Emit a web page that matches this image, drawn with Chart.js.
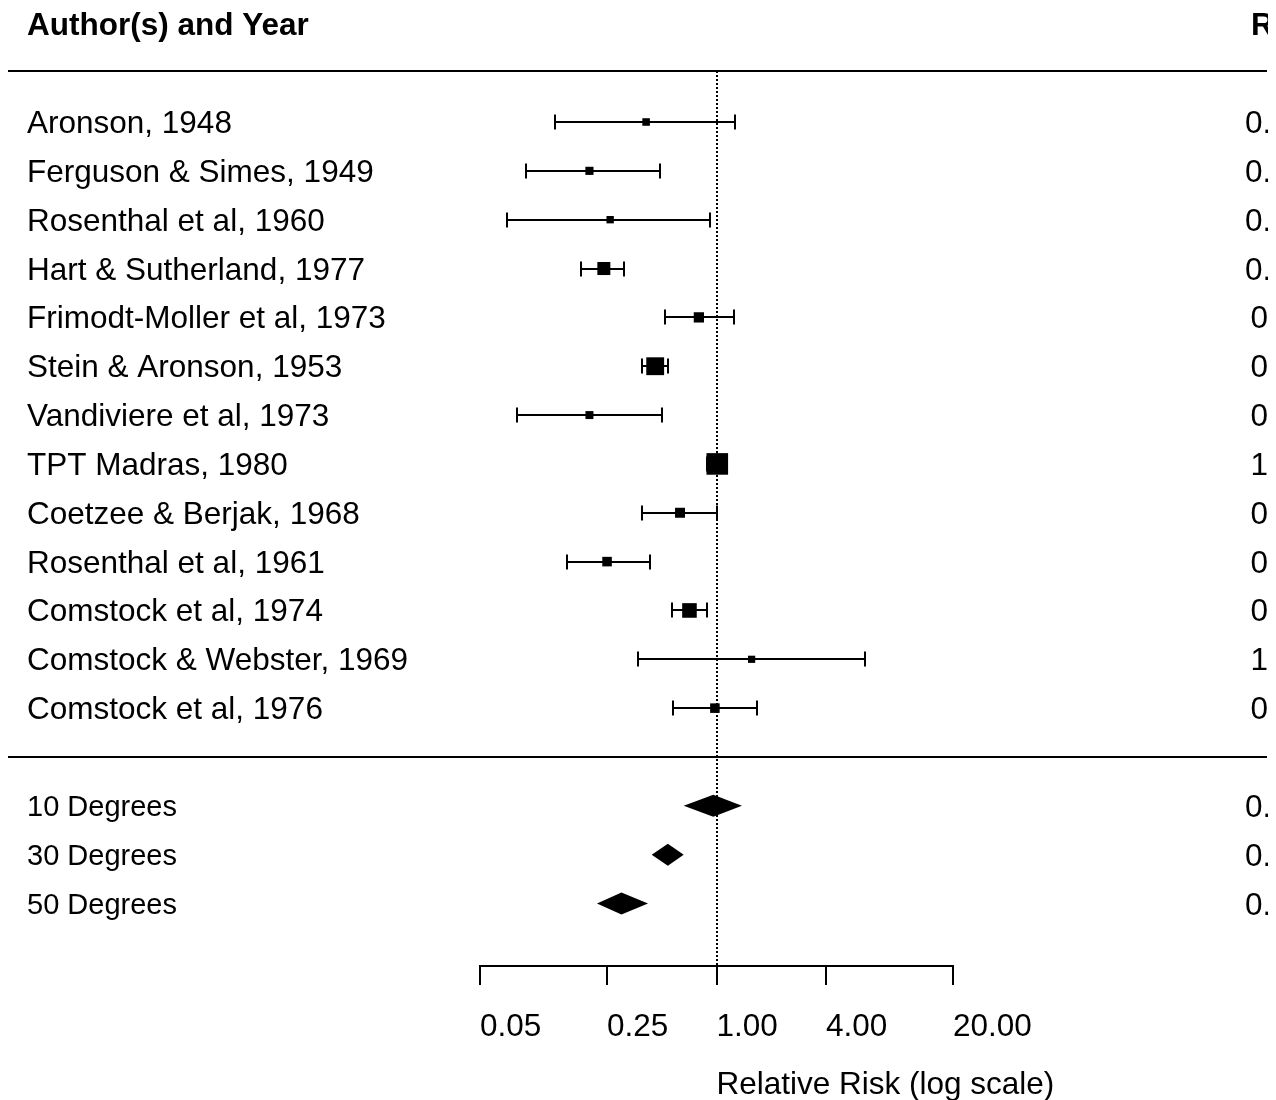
<!DOCTYPE html>
<html>
<head>
<meta charset="utf-8">
<title>BCG vaccine trials – forest plot</title>
<script src="https://cdn.jsdelivr.net/npm/chart.js@4.4.1/dist/chart.umd.min.js"></script>
<style>
  html, body { margin: 0; padding: 0; background: #ffffff; }
  #wrap { width: 1276px; height: 1100px; overflow: hidden; }
  canvas { display: block; }
</style>
</head>
<body>
<div id="wrap"><canvas id="forest" width="1276" height="1100"></canvas></div>
<script>
// ---- trial data: relative risk with 95% confidence limits ----
const studies = [
  'Aronson, 1948',
  'Ferguson & Simes, 1949',
  'Rosenthal et al, 1960',
  'Hart & Sutherland, 1977',
  'Frimodt-Moller et al, 1973',
  'Stein & Aronson, 1953',
  'Vandiviere et al, 1973',
  'TPT Madras, 1980',
  'Coetzee & Berjak, 1968',
  'Rosenthal et al, 1961',
  'Comstock et al, 1974',
  'Comstock & Webster, 1969',
  'Comstock et al, 1976'
];
const rr      = [0.41, 0.20, 0.26, 0.24, 0.80, 0.46, 0.20, 1.01, 0.63, 0.25, 0.71, 1.56, 0.98];
const ciLower = [0.13, 0.09, 0.07, 0.18, 0.52, 0.39, 0.08, 0.89, 0.39, 0.15, 0.57, 0.37, 0.58];
const ciUpper = [1.26, 0.49, 0.92, 0.31, 1.25, 0.54, 0.50, 1.14, 1.00, 0.43, 0.89, 6.53, 1.66];

// ---- predicted relative risk by absolute latitude ----
const latitudes = ['10 Degrees', '30 Degrees', '50 Degrees'];
const predRR    = [0.96, 0.54, 0.30];
const predLower = [0.66, 0.44, 0.22];
const predUpper = [1.38, 0.66, 0.42];

// ---- axis ----
const xTicks = [0.05, 0.25, 1, 4, 20];
const xTickLabels = ['0.05', '0.25', '1.00', '4.00', '20.00'];
const xTitle = 'Relative Risk (log scale)';
const leftHeader = 'Author(s) and Year';
const rightHeader = 'RR [95% CI]';

// ---- layout helpers (rows counted from the top, 1 = first trial) ----
const studyRows = studies.map((_, i) => i + 1);
const separatorRow = studies.length + 1;
const predRows = latitudes.map((_, i) => studies.length + 2 + i);
const headerRow = -1;

const FONT = "'Liberation Sans', Arial, Helvetica, sans-serif";
const fmt = v => v.toFixed(2);
const annot = (e, l, u) => `${fmt(e)} [${fmt(l)}, ${fmt(u)}]`;

// marker size follows the precision of each estimate (1 / SE on the log scale)
const precision = ciLower.map((l, i) => 3.92 / (Math.log(ciUpper[i]) - Math.log(l)));
const pMin = Math.min(...precision), pMax = Math.max(...precision);
const markerSide = precision.map(w => 14.4 * (0.5 + (w - pMin) / (pMax - pMin)));

const forestPlugin = {
  id: 'forestLayout',
  beforeDatasetsDraw(chart) {
    const { ctx, chartArea, scales: { x, y } } = chart;
    const x1 = Math.round(x.getPixelForValue(1));
    ctx.save();
    ctx.strokeStyle = '#000';
    ctx.fillStyle = '#000';

    // dotted line of no effect
    ctx.lineWidth = 2;
    ctx.setLineDash([2, 2]);
    ctx.beginPath();
    ctx.moveTo(x1, Math.round(chartArea.top));
    ctx.lineTo(x1, Math.round(chartArea.bottom));
    ctx.stroke();
    ctx.setLineDash([]);

    // confidence intervals with end caps
    ctx.lineWidth = 2;
    studyRows.forEach((row, i) => {
      const py = Math.round(y.getPixelForValue(row));
      const xl = Math.round(x.getPixelForValue(ciLower[i]));
      const xu = Math.round(x.getPixelForValue(ciUpper[i]));
      ctx.beginPath();
      ctx.moveTo(xl, py); ctx.lineTo(xu, py);
      ctx.moveTo(xl, py - 7.5); ctx.lineTo(xl, py + 7.5);
      ctx.moveTo(xu, py - 7.5); ctx.lineTo(xu, py + 7.5);
      ctx.stroke();
    });

    // prediction diamonds
    predRows.forEach((row, i) => {
      const py = y.getPixelForValue(row);
      const xl = x.getPixelForValue(predLower[i]);
      const xe = x.getPixelForValue(predRR[i]);
      const xu = x.getPixelForValue(predUpper[i]);
      ctx.beginPath();
      ctx.moveTo(xl, py);
      ctx.lineTo(xe, py - 11);
      ctx.lineTo(xu, py);
      ctx.lineTo(xe, py + 11);
      ctx.closePath();
      ctx.fill();
    });
    ctx.restore();
  },
  afterDraw(chart) {
    const { ctx, chartArea, scales: { x, y } } = chart;
    ctx.save();
    ctx.strokeStyle = '#000';
    ctx.fillStyle = '#000';
    ctx.textBaseline = 'alphabetic';

    // horizontal rules
    ctx.lineWidth = 2;
    [chartArea.top, y.getPixelForValue(separatorRow)].forEach(p => {
      const py = Math.round(p);
      ctx.beginPath();
      ctx.moveTo(8, py);
      ctx.lineTo(1267, py);
      ctx.stroke();
    });

    // x axis with ticks below
    const ay = Math.round(chartArea.bottom);
    ctx.beginPath();
    ctx.moveTo(Math.round(x.getPixelForValue(xTicks[0])) - 1, ay);
    ctx.lineTo(Math.round(x.getPixelForValue(xTicks[xTicks.length - 1])) + 1, ay);
    xTicks.forEach(t => {
      const px = Math.round(x.getPixelForValue(t));
      ctx.moveTo(px, ay - 1);
      ctx.lineTo(px, ay + 19);
    });
    ctx.stroke();

    ctx.textAlign = 'left';
    ctx.font = `31.5px ${FONT}`;
    xTicks.forEach((t, i) => {
      ctx.fillText(xTickLabels[i], x.getPixelForValue(t), ay + 70);
    });
    ctx.fillText(xTitle, x.getPixelForValue(1), ay + 128);

    // headers
    const hy = y.getPixelForValue(headerRow) + 11;
    ctx.font = `bold 31.5px ${FONT}`;
    ctx.fillText(leftHeader, 27, hy);

    // study labels
    ctx.font = `31.5px ${FONT}`;
    studyRows.forEach((row, i) => {
      ctx.fillText(studies[i], 27, y.getPixelForValue(row) + 11);
    });
    // latitude labels
    ctx.font = `29px ${FONT}`;
    predRows.forEach((row, i) => {
      ctx.fillText(latitudes[i], 27, y.getPixelForValue(row) + 10);
    });

    // right-hand annotation column (runs past the canvas edge)
    ctx.beginPath();
    ctx.rect(0, 0, 1268, chart.height);
    ctx.clip();
    ctx.font = `bold 31.5px ${FONT}`;
    ctx.fillText(rightHeader, 1251, hy);
    ctx.font = `31.5px ${FONT}`;
    studyRows.forEach((row, i) => {
      const ax = i < 4 ? 1245 : 1250.5;
      ctx.fillText(annot(rr[i], ciLower[i], ciUpper[i]), ax, y.getPixelForValue(row) + 11);
    });
    predRows.forEach((row, i) => {
      ctx.fillText(annot(predRR[i], predLower[i], predUpper[i]), 1245, y.getPixelForValue(row) + 11);
    });
    ctx.restore();
  }
};

new Chart(document.getElementById('forest'), {
  type: 'scatter',
  data: {
    datasets: [{
      label: 'Relative risk',
      data: rr.map((v, i) => ({ x: v, y: studyRows[i] })),
      pointStyle: 'rect',
      pointRadius: markerSide.map(s => s / Math.SQRT2),
      pointHoverRadius: markerSide.map(s => s / Math.SQRT2),
      backgroundColor: '#000000',
      borderColor: '#000000',
      borderWidth: 0,
      showLine: false
    }]
  },
  options: {
    responsive: false,
    animation: false,
    events: [],
    layout: { padding: { left: 480, right: 323, top: 71, bottom: 134 } },
    scales: {
      x: {
        type: 'logarithmic',
        min: 0.05,
        max: 20,
        display: false,
        afterBuildTicks: s => { s.ticks = xTicks.map(v => ({ value: v })); }
      },
      y: {
        type: 'linear',
        reverse: true,
        min: -0.0441,
        max: 18.279,
        display: false
      }
    },
    plugins: {
      legend: { display: false },
      tooltip: { enabled: false },
      title: { display: false }
    }
  },
  plugins: [forestPlugin]
});
</script>
</body>
</html>
